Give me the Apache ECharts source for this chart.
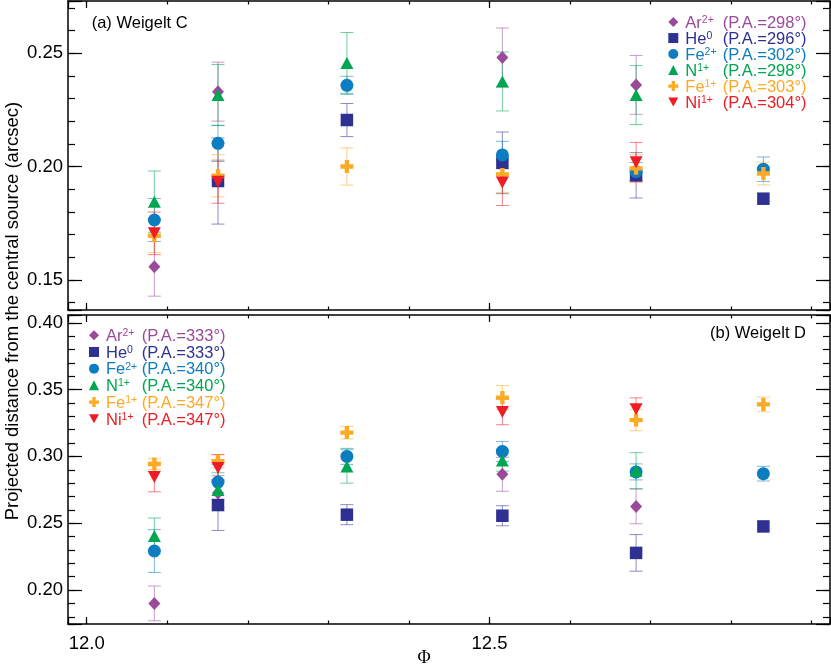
<!DOCTYPE html>
<html><head><meta charset="utf-8">
<script src="https://cdn.jsdelivr.net/npm/echarts@6/dist/echarts.min.js"></script>
<style>html,body{margin:0;padding:0;background:#fff}#c{width:831px;height:666px}</style>
</head><body><div id="c"></div>
<script>
// ---------- data ----------
const phi = [12.084, 12.163, 12.323, 12.516, 12.682, 12.840];
const ionKeys = ['Ar', 'He', 'Fe2', 'N', 'Fe1', 'Ni'];
const ionBase = ['Ar', 'He', 'Fe', 'N', 'Fe', 'Ni'];
const ionSup = ['2+', '0', '2+', '1+', '1+', '1+'];
const paC = ['298', '296', '302', '298', '303', '304'];
const paD = ['333', '333', '340', '340', '347', '347'];
const xTickLabels = ['12.0', '12.5'];

// (a) Weigelt C
const C_Ar = [0.1559, 0.2331, null, 0.2482, 0.2361, null];
const C_Ar_err = [0.013, 0.013, null, 0.013, 0.013, null];
const C_He = [null, 0.1937, 0.2206, 0.2017, 0.1962, 0.1859];
const C_He_err = [null, 0.019, 0.0073, 0.0136, 0.010, null];
const C_Fe2 = [0.1765, 0.2103, 0.2359, 0.2052, 0.1978, 0.1989];
const C_Fe2_err = [0.0095, 0.008, 0.004, 0.006, 0.004, 0.0054];
const C_N = [0.1846, 0.2316, 0.2458, 0.2376, 0.2316, null];
const C_N_err = [0.0135, 0.0135, 0.0134, 0.013, 0.013, null];
const C_Fe1 = [0.1696, 0.196, 0.2001, 0.1966, 0.1993, 0.197];
const C_Fe1_err = [0.0075, 0.0093, 0.0082, 0.008, 0.006, 0.005];
const C_Ni = [0.1706, 0.1934, null, 0.193, 0.202, null];
const C_Ni_err = [0.0094, 0.0095, null, 0.0101, 0.0087, null];

// (b) Weigelt D
const D_Ar = [0.1900, 0.2726, null, 0.2866, 0.2626, null];
const D_Ar_err = [0.013, 0.013, null, 0.0127, 0.013, null];
const D_He = [null, 0.2636, 0.2564, 0.2556, 0.2278, 0.2476];
const D_He_err = [null, 0.019, 0.0075, 0.0075, 0.0137, null];
const D_Fe2 = [0.2292, 0.2808, 0.3000, 0.3037, 0.2884, 0.2871];
const D_Fe2_err = [0.016, 0.013, 0.006, 0.0075, 0.006, 0.0055];
const D_N = [0.2404, 0.2748, 0.2925, 0.2970, 0.2893, null];
const D_N_err = [0.0135, 0.013, 0.0125, 0.008, 0.0135, null];
const D_Fe1 = [0.2943, 0.2965, 0.3178, 0.3440, 0.3272, 0.3389];
const D_Fe1_err = [0.004, 0.005, 0.0047, 0.009, 0.008, 0.0055];
const D_Ni = [0.2845, 0.2913, null, 0.3333, 0.3352, null];
const D_Ni_err = [0.011, 0.010, null, 0.0096, 0.0086, null];

const panelVals = [
  [C_Ar, C_He, C_Fe2, C_N, C_Fe1, C_Ni],
  [D_Ar, D_He, D_Fe2, D_N, D_Fe1, D_Ni]
];
const panelErrs = [
  [C_Ar_err, C_He_err, C_Fe2_err, C_N_err, C_Fe1_err, C_Ni_err],
  [D_Ar_err, D_He_err, D_Fe2_err, D_N_err, D_Fe1_err, D_Ni_err]
];

// ---------- style ----------
const colors = ['#9B4A9A', '#2E3192', '#0D7DC1', '#00A650', '#FBAA26', '#EE1C25'];
const PLUS = 'path://M4,0h4v4h4v4h-4v4h-4v-4h-4v-4h4z';
const DOWN = 'path://M0,0L2,0L1,1.8Z';
const symbols = ['diamond', 'rect', 'circle', 'triangle', PLUS, DOWN];
const symSizes = [[12, 13], 12.5, 13, [13, 12], 13, [13, 12]];
const FONT = '"Liberation Sans", Arial, Helvetica, sans-serif';
const xRange = [11.9768, 12.9227];
const yRanges = [[0.1368, 0.2731], [0.1746, 0.4058]];

const ctx = document.createElement('canvas').getContext('2d');
function textW(t, size) { ctx.font = size + 'px "Liberation Sans"'; return ctx.measureText(t).width; }
function isMult(v, step) { const r = v / step; return Math.abs(r - Math.round(r)) < 1e-6; }

function xAx(g, pos, major, showLabel) {
  return {
    type: 'value', gridIndex: g, position: pos, min: xRange[0], max: xRange[1],
    minInterval: major ? 0.5 : 0.1, maxInterval: major ? 0.5 : 0.1, splitNumber: major ? 2 : 9,
    axisLine: { show: major, onZero: false, lineStyle: { color: '#000', width: 1.5 } },
    axisTick: { show: true, inside: true, length: major ? 7 : 3.5, lineStyle: { color: '#000', width: 1.2 } },
    axisLabel: {
      show: showLabel, margin: 10, color: '#000', fontSize: 18.5, fontFamily: FONT,
      formatter: v => (isMult(v, 0.5) && xTickLabels.indexOf(v.toFixed(1)) >= 0) ? v.toFixed(1) : ''
    },
    splitLine: { show: false }, z: 10
  };
}
function yAx(g, pos, major, showLabel) {
  return {
    type: 'value', gridIndex: g, position: pos, min: yRanges[g][0], max: yRanges[g][1],
    minInterval: major ? 0.05 : 0.01, maxInterval: major ? 0.05 : 0.01, splitNumber: major ? 3 : 14,
    axisLine: { show: major, onZero: false, lineStyle: { color: '#000', width: 1.5 } },
    axisTick: { show: true, inside: true, length: major ? 14 : 7, lineStyle: { color: '#000', width: 1.2 } },
    axisLabel: {
      show: showLabel, margin: 5, color: '#000', fontSize: 18.5, fontFamily: FONT,
      formatter: v => isMult(v, 0.05) ? v.toFixed(2) : ''
    },
    splitLine: { show: false }, z: 10
  };
}

const xAxes = [], yAxes = [];
for (let g = 0; g < 2; g++) {
  xAxes.push(xAx(g, 'bottom', true, g === 1), xAx(g, 'bottom', false, false),
             xAx(g, 'top', true, false), xAx(g, 'top', false, false));
  yAxes.push(yAx(g, 'left', true, true), yAx(g, 'left', false, false),
             yAx(g, 'right', true, false), yAx(g, 'right', false, false));
}

const series = [];
for (let g = 0; g < 2; g++) {
  const panel = g === 0 ? 'C' : 'D';
  for (let i = 0; i < 6; i++) {
    const vals = panelVals[g][i], errs = panelErrs[g][i];
    const ebData = [];
    phi.forEach((x, j) => {
      if (vals[j] != null && errs[j] != null) ebData.push([x, vals[j] - errs[j], vals[j] + errs[j]]);
    });
    const col = colors[i];
    series.push({
      type: 'custom', name: panel + '|eb' + i, xAxisIndex: g * 4, yAxisIndex: g * 4,
      silent: true, z: 2, data: ebData, encode: { x: 0, y: [1, 2] },
      renderItem: function (params, api) {
        const lo = api.coord([api.value(0), api.value(1)]);
        const hi = api.coord([api.value(0), api.value(2)]);
        const hw = 6.5;
        const st = { stroke: col, lineWidth: 1, opacity: 0.55 };
        return {
          type: 'group', children: [
            { type: 'line', shape: { x1: lo[0], y1: lo[1], x2: hi[0], y2: hi[1] }, style: st },
            { type: 'line', shape: { x1: lo[0] - hw, y1: lo[1], x2: lo[0] + hw, y2: lo[1] }, style: st },
            { type: 'line', shape: { x1: hi[0] - hw, y1: hi[1], x2: hi[0] + hw, y2: hi[1] }, style: st }
          ]
        };
      }
    });
  }
  for (let i = 0; i < 6; i++) {
    const vals = panelVals[g][i];
    const data = [];
    phi.forEach((x, j) => { if (vals[j] != null) data.push([x, vals[j]]); });
    series.push({
      type: 'scatter', name: panel + '|' + ionKeys[i], xAxisIndex: g * 4, yAxisIndex: g * 4,
      data: data, symbol: symbols[i], symbolSize: symSizes[i], z: 3 + i,
      itemStyle: { color: colors[i], opacity: 1 },
      emphasis: { disabled: true }, silent: true
    });
  }
}

function makeLegend(panel, left, top, gap, nameWidth) {
  const rich = {
    n: { fontSize: 16.5, lineHeight: 15, fontFamily: FONT, padding: [2.5, 0, 0, 2] },
    p: { fontSize: 16.5, lineHeight: 15, fontFamily: FONT, padding: [2.5, 0, 0, 0] }
  };
  for (let i = 0; i < 6; i++) {
    rich['s' + i] = {
      fontSize: 10.5, lineHeight: 10, fontFamily: FONT, verticalAlign: 'top',
      width: Math.max(4, nameWidth - 2 - textW(ionBase[i], 16.5))
    };
  }
  return {
    orient: 'vertical', left: left, top: top, padding: 0, itemGap: gap,
    itemWidth: 10, itemHeight: 10, selectedMode: false,
    data: ionKeys.map((k, i) => ({ name: panel + '|' + k, icon: symbols[i], textStyle: { color: colors[i] } })),
    formatter: function (name) {
      const k = name.split('|')[1];
      const i = ionKeys.indexOf(k);
      const pa = panel === 'C' ? paC[i] : paD[i];
      return '{n|' + ionBase[i] + '}{s' + i + '|' + ionSup[i] + '}{p|(P.A.=' + pa + '°)}';
    },
    textStyle: { fontFamily: FONT, fontSize: 16.5, lineHeight: 15, rich: rich }
  };
}

const option = {
  animation: false,
  textStyle: { fontFamily: FONT },
  grid: [
    { left: 68, right: 1, top: 1, height: 309, outerBoundsMode: 'none' },
    { left: 68, right: 1, top: 315, height: 309, outerBoundsMode: 'none' }
  ],
  xAxis: xAxes,
  yAxis: yAxes,
  legend: [
    makeLegend('C', 668.3, 12.3, -3.5, 39.4),
    makeLegend('D', 89, 325.5, -2.8, 37.7)
  ],
  graphic: [
    { type: 'text', x: 91.7, y: 23, style: { text: '(a) Weigelt C', fontSize: 16.5, fontFamily: FONT, fill: '#000', verticalAlign: 'middle' } },
    { type: 'text', x: 710, y: 333, style: { text: '(b) Weigelt D', fontSize: 16.5, fontFamily: FONT, fill: '#000', verticalAlign: 'middle' } },
    { type: 'text', x: 12.5, y: 311, rotation: Math.PI / 2,
      style: { text: 'Projected distance from the central source (arcsec)', fontSize: 18.5, fontFamily: FONT, fill: '#000', align: 'center', verticalAlign: 'middle' } },
    { type: 'text', x: 424, y: 658, style: { text: 'Φ', fontSize: 18, fontFamily: '"Liberation Serif", "DejaVu Serif", serif', fill: '#000', align: 'center', verticalAlign: 'middle' } }
  ],
  series: series
};

const chart = echarts.init(document.getElementById('c'), null, { renderer: 'canvas' });
chart.setOption(option);
</script>
</body></html>
